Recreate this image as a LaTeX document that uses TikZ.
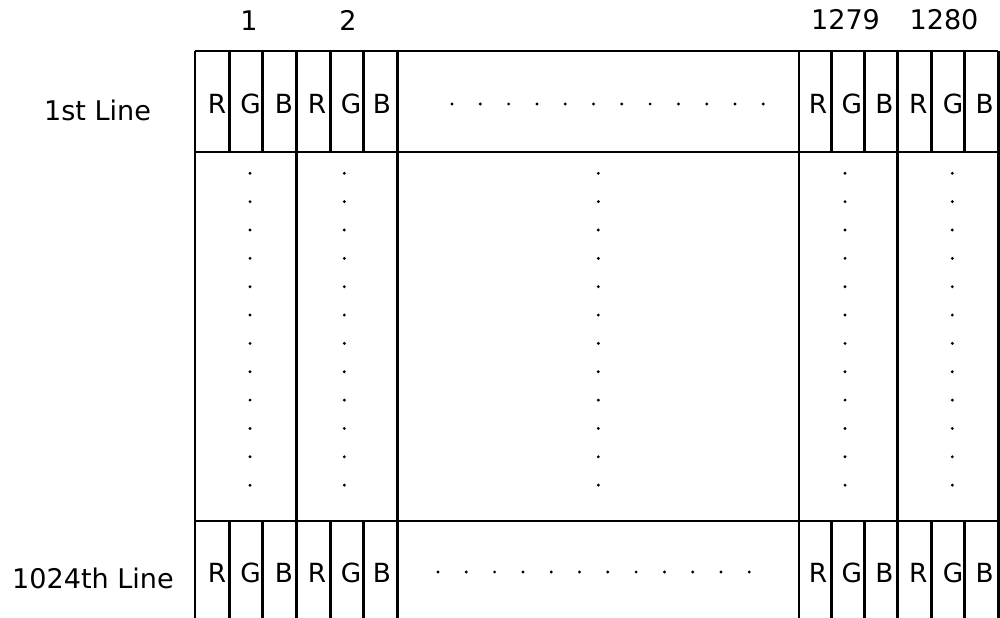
\documentclass[tikz,border=0pt]{standalone}
\usepackage{fontspec}
\setmainfont{DejaVu Sans}
\usepackage{tikz}

\begin{document}
\begin{tikzpicture}[x=0.02cm,y=-0.02cm,line width=1.5pt,
    sub/.style={font=\fontsize{15}{17}\selectfont,inner sep=0pt},
    lbl/.style={font=\fontsize{15.4}{18}\selectfont,inner sep=0pt},
    dotmark/.style={fill=black}]
    \useasboundingbox (0,0) rectangle (1000,618);
    \clip (0,0) rectangle (1000,618);

    % frame
    \draw (195,51) -- (998.3,51);
    \draw (195,152) -- (998.3,152);
    \draw (195,521) -- (998.3,521);
    \draw (195,622) -- (998.3,622);

    % pixel borders
    \foreach \x in {195,296.7,397.3,799,897.7,998.3}
      \draw (\x,51) -- (\x,622);

    % sub-pixel borders, first and last line
    \foreach \x in {229.3,262.5,330.2,363.5,831.5,864.5,931.2,964.7} {
      \draw (\x,51) -- (\x,152);
      \draw (\x,521) -- (\x,622);
    }

    % pixel numbers
    \node[lbl] (p1) at (249,20.5) {1};
    \node[lbl] (p2) at (348,20.5) {2};
    \node[lbl] (p1279) at (845.5,20) {1279};
    \node[lbl] (p1280) at (944,20) {1280};

    % line names
    \node[lbl] (first) at (97.5,110.5) {1st Line};
    \node[lbl] (last) at (93,578.5) {1024th Line};

    % 1st line
    \node[sub] (ta1) at (217,104) {R};
    \node[sub] (tb1) at (250.7,104) {G};
    \node[sub] (tc1) at (284,104) {B};
    \node[sub] (ta2) at (317,104) {R};
    \node[sub] (tb2) at (351,104) {G};
    \node[sub] (tc2) at (382,104) {B};
    \node[sub] (ta3) at (818,104) {R};
    \node[sub] (tb3) at (851.7,104) {G};
    \node[sub] (tc3) at (884.5,104) {B};
    \node[sub] (ta4) at (918.3,104) {R};
    \node[sub] (tb4) at (953,104) {G};
    \node[sub] (tc4) at (984.7,104) {B};

    % 1024th line
    \node[sub] (ba1) at (217,572.5) {R};
    \node[sub] (bb1) at (250.7,572.5) {G};
    \node[sub] (bc1) at (284,572.5) {B};
    \node[sub] (ba2) at (317,572.5) {R};
    \node[sub] (bb2) at (351,572.5) {G};
    \node[sub] (bc2) at (382,572.5) {B};
    \node[sub] (ba3) at (818,572.5) {R};
    \node[sub] (bb3) at (851.7,572.5) {G};
    \node[sub] (bc3) at (884.5,572.5) {B};
    \node[sub] (ba4) at (918.3,572.5) {R};
    \node[sub] (bb4) at (953,572.5) {G};
    \node[sub] (bc4) at (984.7,572.5) {B};

    % dots along the lines
    \foreach \i in {0,...,11} {
      \fill[dotmark] (452+28.3*\i,104) circle (1.6);
      \fill[dotmark] (438+28.3*\i,572) circle (1.6);
    }

    % dots down the columns
    \foreach \x in {250,344.3,598.3,845,952.3}
      \foreach \i in {0,...,11}
        \fill[dotmark] (\x,173.3+28.35*\i) circle (1.6);
  \end{tikzpicture}
\end{document}
